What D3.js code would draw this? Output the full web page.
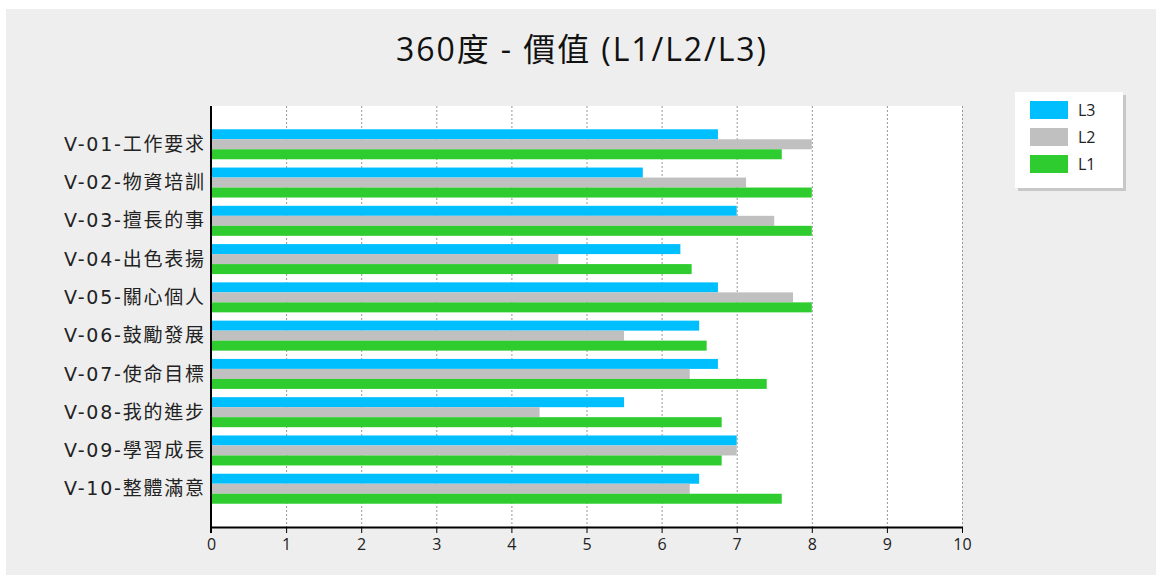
<!DOCTYPE html>
<html><head><meta charset="utf-8">
<script src="https://cdn.jsdelivr.net/npm/d3@7"></script>
<style>
html,body{margin:0;padding:0;background:#fff;}
svg{display:block;font-family:"Noto Sans CJK TC","Noto Sans",sans-serif;}
</style></head><body>
<svg id="chart" width="1160" height="579"></svg>
<script>
const categories = ["V-01-工作要求","V-02-物資培訓","V-03-擅長的事","V-04-出色表揚","V-05-關心個人","V-06-鼓勵發展","V-07-使命目標","V-08-我的進步","V-09-學習成長","V-10-整體滿意"];
const seriesNames = ["L3","L2","L1"];
const L3 = [6.75,5.75,7.0,6.25,6.75,6.5,6.75,5.5,7.0,6.5];
const L2 = [8.0,7.125,7.5,4.625,7.75,5.5,6.375,4.375,7.0,6.375];
const L1 = [7.6,8.0,8.0,6.4,8.0,6.6,7.4,6.8,6.8,7.6];
const colors = ["#00BFFF","#C0C0C0","#2ECC2E"];
const xTicks = [0,1,2,3,4,5,6,7,8,9,10];
const title = "360度 - 價值 (L1/L2/L3)";

(function(){
const values = [L3, L2, L1];
const svg = d3.select("#chart");
svg.append("rect").attr("x",6).attr("y",9).attr("width",1150).attr("height",566).attr("fill","#eeeeee");

const pLeft = 211, pRight = 962, pTop = 106, pBottom = 527;
svg.append("rect").attr("x",pLeft).attr("y",pTop).attr("width",pRight-pLeft).attr("height",pBottom-pTop).attr("fill","#fff");

const x = d3.scaleLinear().domain([0,10]).range([pLeft,pRight]);
const y = d3.scalePoint().domain(categories).range([pTop,pBottom]).padding(1);
const barH = 10;

// gridlines
svg.append("g").selectAll("line").data(xTicks.slice(1)).join("line")
  .attr("x1",d=>x(d)+0.5).attr("x2",d=>x(d)+0.5).attr("y1",pTop).attr("y2",pBottom)
  .attr("stroke","#999").attr("stroke-width",1).attr("stroke-dasharray","2,2");

// bars
values.forEach((vals,si)=>{
  svg.append("g").selectAll("rect").data(categories).join("rect")
    .attr("x",x(0)+1)
    .attr("y",(d)=>y(d)-1.5*barH+si*barH)
    .attr("width",(d,i)=>x(vals[i])-x(0)-1)
    .attr("height",barH)
    .attr("fill",colors[si]);
});

// x axis
const xAxis = d3.axisBottom(x).tickValues(xTicks).tickSize(6).tickSizeOuter(0).tickFormat(d3.format("d"));
const gx = svg.append("g").attr("transform",`translate(0,${pBottom})`).call(xAxis);
gx.select(".domain").attr("stroke","#000").attr("stroke-width",2);
gx.selectAll(".tick line").attr("stroke","#000");
gx.selectAll(".tick text").attr("font-size",16).attr("fill","#222").attr("dy","0.9em")
  .attr("font-family","'Open Sans','Noto Sans',sans-serif");

// y axis
const yAxis = d3.axisLeft(y).tickSize(0).tickPadding(7);
const gy = svg.append("g").attr("transform",`translate(${pLeft},0)`).call(yAxis);
gy.select(".domain").remove();
gy.selectAll(".tick text").attr("font-size",19).attr("fill","#222")
  .attr("font-family","'DejaVu Sans','Noto Sans CJK TC',sans-serif")
  .attr("textLength",140).attr("lengthAdjust","spacing");
svg.append("line").attr("x1",pLeft).attr("x2",pLeft).attr("y1",pTop).attr("y2",pBottom+6)
  .attr("stroke","#000").attr("stroke-width",2);

// title
svg.append("text").attr("x",581).attr("y",61).attr("text-anchor","middle")
  .attr("font-size",32).attr("fill","#111").attr("textLength",370).attr("lengthAdjust","spacing")
  .attr("font-family","'Open Sans','Noto Sans CJK TC',sans-serif").text(title);

// legend
const lg = svg.append("g").attr("transform","translate(1015,92)");
lg.append("rect").attr("x",3).attr("y",3).attr("width",108).attr("height",96).attr("fill","#c8c8c8");
lg.append("rect").attr("x",0).attr("y",0).attr("width",108).attr("height",96).attr("fill","#fff");
seriesNames.forEach((n,i)=>{
  lg.append("rect").attr("x",15).attr("y",9+i*27).attr("width",38).attr("height",18).attr("fill",colors[i]);
  lg.append("text").attr("x",63).attr("y",24+i*27).attr("font-size",16).attr("fill","#222")
    .attr("font-family","'Open Sans','Noto Sans',sans-serif").text(n);
});
})();
</script>
</body></html>
